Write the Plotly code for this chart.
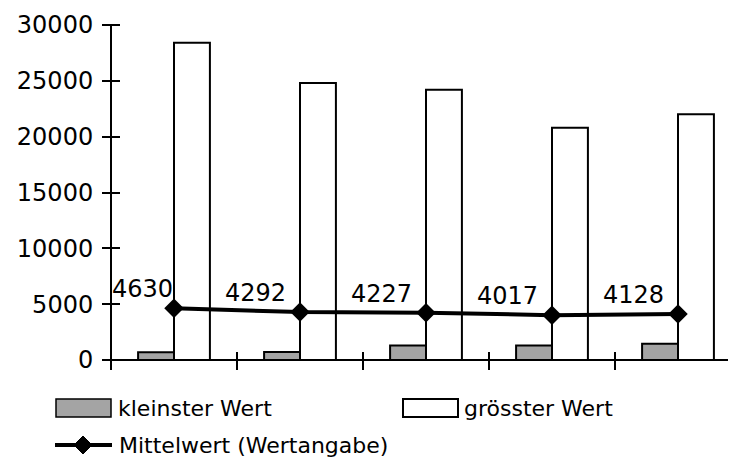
import plotly.graph_objects as go

categories = [0, 1, 2, 3, 4]
kleinster = [700, 720, 1300, 1300, 1450]
groesster = [28400, 24800, 24200, 20800, 22000]
mittelwert = [4630, 4292, 4227, 4017, 4128]
y_ticks = [0, 5000, 10000, 15000, 20000, 25000, 30000]
y_tick_labels = ["0", "5000", "10000", "15000", "20000", "25000", "30000"]
x_bounds = [-0.5, 0.5, 1.5, 2.5, 3.5, 4.5]

OFF = 8  # page body margin
W, H = 736 - OFF, 462 - OFF
L, R, T, B = 111 - OFF, 0, 25 - OFF, 102
PW, PH = W - L - R, H - T - B
FONT = "DejaVu Sans"
TK = 9  # half tick length (ticks cross the axis)

def px(x):
    return (x - OFF - L) / PW

def py(y):
    return (T + PH - (y - OFF)) / PH

fig = go.Figure()
fig.add_trace(go.Bar(x=categories, y=kleinster, name="kleinster Wert",
                     marker=dict(color="#a4a4a4", line=dict(color="black", width=2)),
                     showlegend=False))
fig.add_trace(go.Bar(x=categories, y=groesster, name="grösster Wert",
                     marker=dict(color="white", line=dict(color="black", width=2)),
                     showlegend=False))
fig.add_trace(go.Scatter(x=categories, y=mittelwert, name="Mittelwert (Wertangabe)",
                         mode="lines+markers",
                         line=dict(color="black", width=4),
                         marker=dict(symbol="diamond", size=15, color="black"),
                         showlegend=False))

xr = [-0.5, -0.5 + (736 - 111) / 126.0]
yr = [0, 30000]

fig.update_layout(
    width=W, height=H,
    margin=dict(l=L, r=R, t=T, b=B, pad=0),
    plot_bgcolor="white", paper_bgcolor="white",
    barmode="group", bargap=0.43, bargroupgap=0,
    font=dict(family=FONT, size=24, color="black"),
    xaxis=dict(range=xr, tickvals=x_bounds, showticklabels=False,
               ticks="outside", ticklen=2 * TK, tickwidth=2, tickcolor="black",
               anchor="free", position=TK / PH, showline=False,
               showgrid=False, zeroline=False),
    yaxis=dict(range=yr, tickvals=y_ticks, ticktext=y_tick_labels,
               ticks="outside", ticklen=2 * TK, tickwidth=2, tickcolor="black",
               anchor="free", position=TK / PW, showline=False,
               showgrid=False, zeroline=True, zerolinecolor="black", zerolinewidth=2,
               tickfont=dict(family=FONT, size=24, color="black"), ticklabelstandoff=4),
)

shapes = []
# left axis line
shapes.append(dict(type="line", xref="paper", yref="paper", x0=0, x1=0, y0=0, y1=1,
                   line=dict(color="black", width=2)))

# data labels
shifts = [-32, -45, -45, -45, -45]
for c, v, s in zip(categories, mittelwert, shifts):
    fig.add_annotation(x=c, y=v, text=str(v), showarrow=False, xanchor="center",
                       yanchor="middle", xshift=s, yshift=19,
                       font=dict(family=FONT, size=24, color="black"))

# manual legend
r1, r2 = 408, 445
shapes.append(dict(type="rect", xref="paper", yref="paper",
                   x0=px(56), x1=px(111), y0=py(417), y1=py(399),
                   fillcolor="#a4a4a4", line=dict(color="black", width=1.5)))
shapes.append(dict(type="rect", xref="paper", yref="paper",
                   x0=px(403), x1=px(458), y0=py(417), y1=py(399),
                   fillcolor="white", line=dict(color="black", width=2)))
shapes.append(dict(type="line", xref="paper", yref="paper",
                   x0=px(55), x1=px(112), y0=py(r2), y1=py(r2),
                   line=dict(color="black", width=4)))
d = 9
path = "M {} {} L {} {} L {} {} L {} {} Z".format(
    px(83 - d), py(r2), px(83), py(r2 - d), px(83 + d), py(r2), px(83), py(r2 + d))
shapes.append(dict(type="path", xref="paper", yref="paper", path=path,
                   fillcolor="black", line=dict(color="black", width=1)))
fig.update_layout(shapes=shapes)

for txt, x0, yy in [("kleinster Wert", 116, r1), ("grösster Wert", 462, r1),
                    ("Mittelwert (Wertangabe)", 117, r2)]:
    fig.add_annotation(xref="paper", yref="paper", x=px(x0), y=py(yy), text=txt,
                       showarrow=False, xanchor="left", yanchor="middle",
                       font=dict(family=FONT, size=22, color="black"))

fig.write_html("out.html")
